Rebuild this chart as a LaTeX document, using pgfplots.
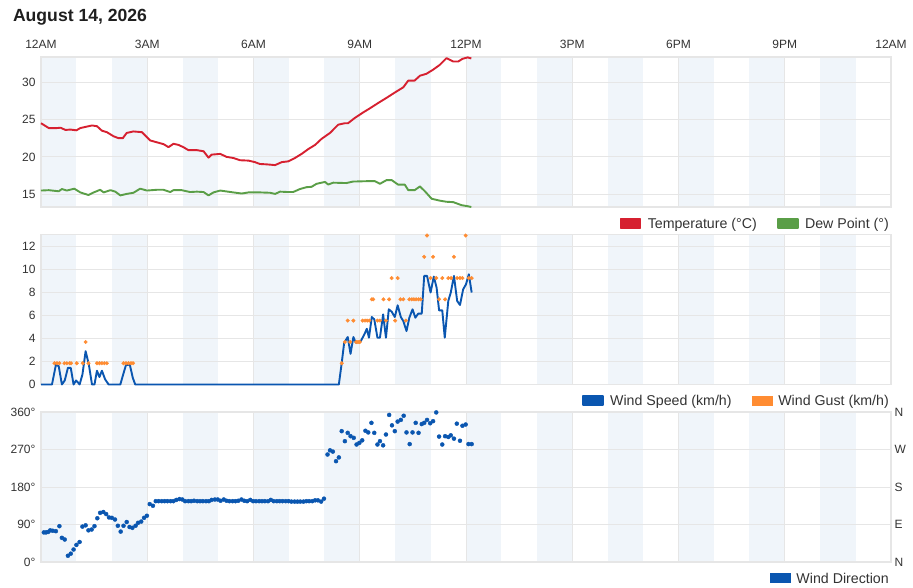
\documentclass[border=0pt]{standalone}
\usepackage{fontspec}
\setmainfont{Liberation Sans}
\usepackage{pgfplots}
\usepackage{pgfplotstable}
\pgfplotsset{compat=1.18}

\definecolor{tred}{HTML}{D62030}
\definecolor{dgreen}{HTML}{5A9E47}
\definecolor{wblue}{HTML}{0A56B0}
\definecolor{gorange}{HTML}{FF8C32}
\definecolor{band}{HTML}{F0F5FA}
\definecolor{gridc}{HTML}{E6E6E6}
\definecolor{txt}{HTML}{333333}

\pgfplotstableread{
h t
0.00 24.5
0.22 23.85
0.45 23.85
0.55 23.9
0.69 23.6
0.83 23.65
1.00 23.55
1.11 23.85
1.25 24.0
1.44 24.2
1.58 24.1
1.72 23.5
1.86 23.3
2.05 22.75
2.19 22.5
2.31 22.5
2.42 23.2
2.61 23.4
2.85 23.3
3.08 22.2
3.27 21.95
3.46 21.7
3.60 21.3
3.74 21.75
3.88 21.6
4.02 21.3
4.16 20.9
4.40 20.9
4.59 20.75
4.73 19.9
4.82 20.3
5.06 20.4
5.24 20.0
5.43 19.85
5.62 19.55
5.86 19.5
6.04 19.3
6.18 19.05
6.37 19.0
6.61 18.9
6.80 19.3
6.98 19.4
7.17 19.85
7.36 20.4
7.55 21.05
7.74 21.6
7.92 22.4
8.16 23.2
8.39 24.3
8.58 24.5
8.67 24.5
8.86 25.2
9.10 25.95
9.29 26.5
9.52 27.2
9.76 27.9
9.99 28.6
10.23 29.3
10.37 30.2
10.55 30.2
10.70 30.85
10.88 31.1
11.07 31.65
11.26 32.3
11.45 33.2
11.64 32.75
11.78 32.75
11.90 33.1
12.05 33.3
12.15 33.15
}\temptable

\pgfplotstableread{
h d
0.00 15.5
0.22 15.55
0.50 15.4
0.59 15.7
0.73 15.5
0.94 15.75
1.11 15.25
1.34 14.9
1.49 15.25
1.67 15.6
1.77 15.25
1.96 15.55
2.10 15.35
2.24 14.85
2.42 15.05
2.61 15.2
2.80 15.75
2.99 15.5
3.27 15.6
3.46 15.6
3.65 15.3
3.74 15.55
3.97 15.55
4.21 15.3
4.40 15.35
4.59 15.3
4.73 14.85
4.87 15.25
5.06 15.5
5.43 15.25
5.67 15.1
5.86 15.25
6.18 15.25
6.47 15.2
6.61 15.05
6.75 15.35
6.98 15.3
7.12 15.3
7.31 15.7
7.50 15.95
7.64 16.0
7.78 16.4
8.02 16.65
8.11 16.3
8.25 16.55
8.62 16.5
8.81 16.7
9.19 16.75
9.43 16.75
9.57 16.4
9.76 16.9
9.90 16.9
10.08 16.3
10.27 16.3
10.37 15.55
10.55 15.55
10.70 16.05
10.84 15.4
11.03 14.4
11.26 14.15
11.45 14.0
11.64 13.95
11.87 13.55
12.05 13.4
12.15 13.3
}\dewtable

\pgfplotstableread{
h v
0.00 0
0.31 0
0.42 1.7
0.50 1.6
0.59 0
0.67 0.35
0.76 1.45
0.84 1.45
0.92 0
0.99 0.35
1.05 0.15
1.09 0
1.17 0.87
1.26 2.9
1.35 1.75
1.44 0
1.51 0
1.58 1.2
1.65 0.65
1.72 1.2
1.81 0.45
1.91 0
2.24 0
2.32 0.87
2.40 1.7
2.51 1.7
2.59 0.6
2.66 0
8.41 0
8.49 1.85
8.56 3.63
8.66 4.13
8.74 2.67
8.82 4.13
8.89 3.63
8.96 3.7
9.03 3.78
9.13 4.36
9.20 4.85
9.26 4.07
9.34 5.87
9.41 5.67
9.50 4.07
9.57 4.07
9.66 6.1
9.74 4.07
9.82 6.54
9.90 6.34
9.99 5.87
10.07 6.89
10.16 5.87
10.23 5.52
10.32 4.65
10.40 5.81
10.49 6.54
10.57 5.81
10.65 6.16
10.75 6.16
10.82 9.45
10.90 9.45
11.00 8.0
11.09 9.39
11.17 8.43
11.24 6.45
11.33 6.45
11.40 4.07
11.50 7.27
11.57 8.0
11.66 9.45
11.75 7.27
11.83 6.92
11.92 8.28
12.00 8.72
12.08 9.59
12.16 8.0
}\windtable

\pgfplotstableread{
h g
0.38 1.85
0.45 1.85
0.52 1.85
0.66 1.85
0.73 1.85
0.81 1.85
0.85 1.85
1.01 1.85
1.18 1.85
1.26 3.70
1.34 1.85
1.58 1.85
1.65 1.85
1.72 1.85
1.79 1.85
1.86 1.85
2.33 1.85
2.40 1.85
2.47 1.85
2.54 1.85
2.60 1.85
8.49 1.85
8.58 3.70
8.66 5.56
8.73 3.70
8.82 5.56
8.90 3.70
8.95 3.70
9.00 3.70
9.08 5.56
9.15 5.56
9.21 5.56
9.27 5.56
9.34 7.41
9.38 7.41
9.50 5.56
9.57 5.56
9.67 7.41
9.74 5.56
9.83 7.41
9.90 9.26
10.00 5.56
10.07 9.26
10.15 7.41
10.23 7.41
10.30 5.56
10.40 7.41
10.47 7.41
10.53 7.41
10.59 7.41
10.66 7.41
10.72 7.41
10.82 11.11
10.90 12.96
11.00 9.26
11.07 11.11
11.16 9.26
11.24 7.41
11.33 9.26
11.41 7.41
11.50 9.26
11.58 9.26
11.66 11.11
11.75 9.26
11.83 9.26
11.90 9.26
11.99 12.96
12.08 9.26
12.16 9.26
}\gusttable

\pgfplotstableread{
h d
0.08 71
0.14 71
0.20 72
0.26 76
0.33 75
0.42 74
0.52 86
0.59 58
0.67 54
0.76 15
0.84 20
0.92 30
1.00 41
1.09 48
1.17 85
1.26 88
1.34 76
1.43 78
1.51 86
1.59 105
1.67 118
1.76 120
1.84 115
1.92 107
2.00 106
2.09 102
2.17 87
2.25 73
2.33 87
2.42 96
2.50 84
2.58 82
2.67 87
2.74 94
2.83 97
2.91 106
2.99 111
3.07 139
3.16 135
3.24 146
3.32 146
3.41 146
3.49 146
3.57 146
3.66 146
3.74 146
3.82 149
3.91 151
3.99 150
4.07 146
4.16 146
4.24 146
4.32 147
4.41 146
4.49 146
4.57 146
4.66 146
4.74 146
4.82 149
4.91 150
4.99 150
5.07 147
5.16 150
5.24 147
5.32 146
5.41 146
5.49 146
5.57 147
5.66 150
5.74 147
5.82 146
5.91 149
5.99 146
6.07 146
6.16 146
6.24 146
6.32 146
6.41 146
6.49 149
6.57 146
6.66 146
6.74 146
6.82 146
6.91 146
6.99 146
7.07 145
7.16 145
7.24 145
7.32 145
7.41 145
7.49 146
7.57 146
7.66 146
7.74 148
7.82 148
7.91 145
7.99 152
8.09 258
8.16 268
8.24 265
8.33 242
8.41 251
8.49 314
8.58 290
8.66 310
8.74 302
8.83 298
8.91 282
8.99 286
9.07 292
9.16 315
9.24 311
9.33 334
9.41 310
9.50 282
9.57 290
9.66 280
9.74 306
9.83 353
9.91 328
9.99 314
10.07 337
10.16 341
10.24 351
10.32 311
10.41 283
10.49 311
10.58 334
10.66 310
10.75 331
10.82 334
10.90 341
10.99 333
11.07 338
11.16 359
11.24 301
11.33 282
11.41 302
11.50 300
11.57 304
11.66 296
11.74 332
11.83 291
11.90 327
11.99 330
12.07 283
12.16 283
}\dirtable

\newcommand\bands[2]{%
\addplot[forget plot, fill=band, draw=none, on layer=axis background] coordinates {(0,#1) (1,#1) (1,#2) (0,#2)};
\addplot[forget plot, fill=band, draw=none, on layer=axis background] coordinates {(2,#1) (3,#1) (3,#2) (2,#2)};
\addplot[forget plot, fill=band, draw=none, on layer=axis background] coordinates {(4,#1) (5,#1) (5,#2) (4,#2)};
\addplot[forget plot, fill=band, draw=none, on layer=axis background] coordinates {(6,#1) (7,#1) (7,#2) (6,#2)};
\addplot[forget plot, fill=band, draw=none, on layer=axis background] coordinates {(8,#1) (9,#1) (9,#2) (8,#2)};
\addplot[forget plot, fill=band, draw=none, on layer=axis background] coordinates {(10,#1) (11,#1) (11,#2) (10,#2)};
\addplot[forget plot, fill=band, draw=none, on layer=axis background] coordinates {(12,#1) (13,#1) (13,#2) (12,#2)};
\addplot[forget plot, fill=band, draw=none, on layer=axis background] coordinates {(14,#1) (15,#1) (15,#2) (14,#2)};
\addplot[forget plot, fill=band, draw=none, on layer=axis background] coordinates {(16,#1) (17,#1) (17,#2) (16,#2)};
\addplot[forget plot, fill=band, draw=none, on layer=axis background] coordinates {(18,#1) (19,#1) (19,#2) (18,#2)};
\addplot[forget plot, fill=band, draw=none, on layer=axis background] coordinates {(20,#1) (21,#1) (21,#2) (20,#2)};
\addplot[forget plot, fill=band, draw=none, on layer=axis background] coordinates {(22,#1) (23,#1) (23,#2) (22,#2)};
}

\pgfplotsset{
  panel/.style={
    set layers,
    scale only axis, width=850pt, height=150pt,
    xmin=0, xmax=24, xtick={0,3,...,24},
    major tick length=0pt,
    grid=major,
    major grid style={draw=gridc, line width=0.9pt},
    axis line style={draw=gridc, line width=1.3pt},
    tick label style={font=\fontsize{12}{14}\selectfont, text=txt},
    yticklabel style={xshift=-2pt},
    /pgf/number format/assume math mode=true,
    clip=false,
    legend style={at={(1,0)}, anchor=north east, yshift=-9pt, draw=none, fill=none,
      font=\fontsize{14.2}{16}\selectfont, text=txt, legend columns=-1, inner sep=0pt,
      /tikz/every odd column/.append style={column sep=4.3pt},
      /tikz/every even column/.append style={column sep=18pt}},
    legend cell align=left,
  },
}

\begin{document}
\begin{tikzpicture}
\path (0pt,0pt) rectangle (913pt,587pt);
\node[anchor=base west, font=\bfseries\fontsize{17.6}{21}\selectfont, text=black!88] at (9.5pt,565.5pt) {August 14, 2026};

% Panel 1: temperature and dew point
\begin{axis}[panel, at={(41pt,380pt)}, anchor=south west,
  ymin=13.3, ymax=33.35, ytick={15,20,25,30},
  xticklabel pos=upper, xticklabel style={yshift=5pt},
  xticklabels={12AM,3AM,6AM,9AM,12PM,3PM,6PM,9PM,12AM}]
\bands{13.3}{33.35}
\addplot[draw=tred, line width=1.9pt, line join=round,
  legend image code/.code={\fill[tred] (0pt,-3.5pt) rectangle (20pt,5.5pt);}]
  table[x=h, y=t] {\temptable};
\addlegendentry{Temperature (°C)}
\addplot[draw=dgreen, line width=1.9pt, line join=round,
  legend image code/.code={\fill[dgreen] (0pt,-3.5pt) rectangle (20pt,5.5pt);}]
  table[x=h, y=d] {\dewtable};
\addlegendentry{Dew Point (°)}
\end{axis}

% Panel 2: wind speed and gust
\begin{axis}[panel, at={(41pt,202.5pt)}, anchor=south west,
  ymin=0, ymax=13.05, ytick={0,2,...,12}, xticklabels={}]
\bands{0}{13.05}
\addplot[draw=wblue, line width=1.9pt, line join=round,
  legend image code/.code={\fill[wblue] (0pt,-3.5pt) rectangle (20pt,5.5pt);}]
  table[x=h, y=v] {\windtable};
\addlegendentry{Wind Speed (km/h)}
\addplot[color=gorange, only marks, mark=*, mark size=1.8pt, mark options={solid, fill=gorange, draw=gorange},
  legend image code/.code={\fill[gorange] (0pt,-3.5pt) rectangle (20pt,5.5pt);}]
  table[x=h, y=g] {\gusttable};
\addlegendentry{Wind Gust (km/h)}
\end{axis}

% Panel 3: wind direction
\begin{axis}[panel, at={(41pt,25pt)}, anchor=south west,
  ymin=0, ymax=360, ytick={0,90,...,360},
  yticklabels={0°,90°,180°,270°,360°}, xticklabels={}]
\bands{0}{360}
\addplot[color=wblue, only marks, mark=*, mark size=2pt, mark options={solid, fill=wblue, draw=wblue},
  legend image code/.code={\fill[wblue] (0pt,-3.5pt) rectangle (20pt,5.5pt);}]
  table[x=h, y=d] {\dirtable};
\addlegendentry{Wind Direction}
\end{axis}
\begin{axis}[scale only axis, width=850pt, height=150pt, at={(41pt,25pt)}, anchor=south west,
  xmin=0, xmax=24, ymin=0, ymax=360, axis line style={draw=none},
  xtick=\empty, ytick={0,90,...,360}, yticklabels={N,E,S,W,N},
  yticklabel pos=right, major tick length=0pt,
  tick label style={font=\fontsize{12}{14}\selectfont, text=txt}]
\addplot[draw=none, forget plot] coordinates {(0,0) (24,360)};
\end{axis}
\end{tikzpicture}
\end{document}
